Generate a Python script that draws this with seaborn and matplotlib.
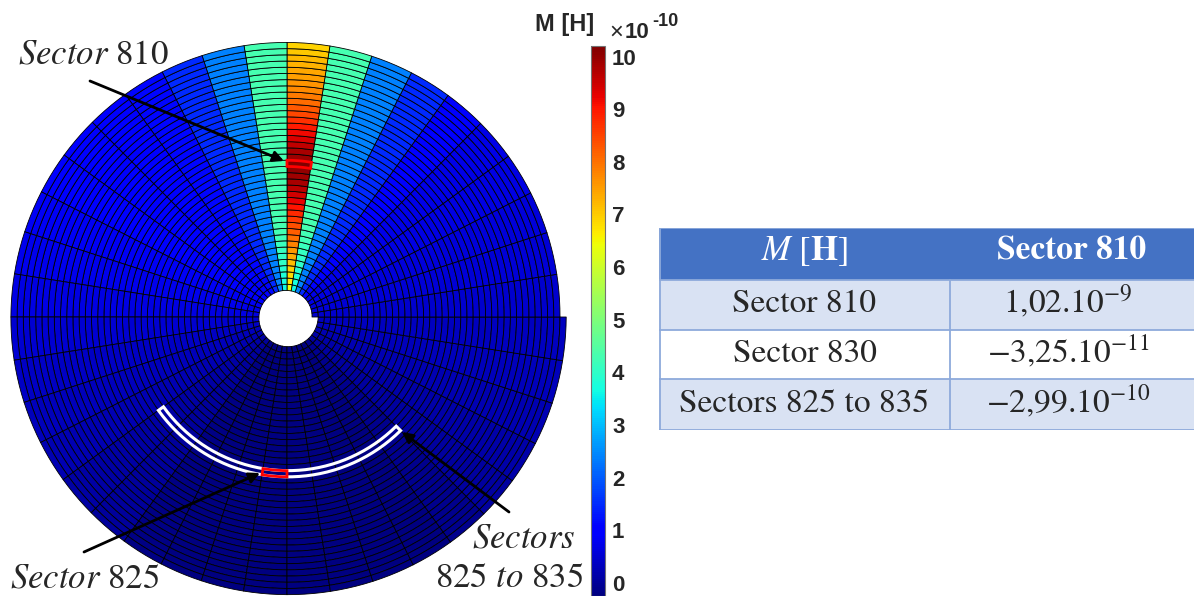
import numpy as np
import matplotlib
matplotlib.use("Agg")
import matplotlib.pyplot as plt
import seaborn as sns
from matplotlib.collections import PolyCollection
from matplotlib.patches import Polygon, Rectangle
from matplotlib.colors import Normalize

sns.set_style("white")
plt.rcParams["mathtext.fontset"] = "stix"

# ==========================================
# Data: mutual inductance M to sector 810 (x1e-10 H)
# spiral mesh: 40 turns x 40 sectors per turn (9 deg each)
# ==========================================
N_TURNS = 40
N_SECTORS = 40

# value per angular sector (same on every turn), sector 0 starts at 0 deg, counter clockwise
angular_M = [0.45, 0.55, 0.6, 0.65, 0.72, 0.9, 1.5, 2.4, 4.3, 9.0,
             4.3, 2.4, 1.5, 1.1, 1.0, 0.95, 0.9, 0.85, 0.75, 0.65,
             0.5, 0.4, 0.3, 0.2, 0.1, 0.0, -0.2, -0.3, -0.32, -0.33,
             -0.33, -0.32, -0.3, -0.25, -0.1, 0.05, 0.15, 0.2, 0.3, 0.35]

# radial profile (turn 0 = inner) of the two sectors next to sector 810
side_M = [3.6, 3.7, 3.8, 3.9, 4.0, 4.05, 4.1, 4.15, 4.2, 4.25,
          4.3, 4.3, 4.3, 4.3, 4.3, 4.3, 4.3, 4.3, 4.3, 4.3,
          4.3, 4.3, 4.3, 4.3, 4.3, 4.3, 4.3, 4.3, 4.3, 4.3,
          4.3, 4.3, 4.3, 4.3, 4.3, 4.3, 4.3, 4.3, 4.3, 4.3]

# radial profile of the sector column holding sector 810
center_M = [6.45, 6.7, 6.85, 6.95, 7.15, 7.35, 7.55, 7.8, 8.0, 8.2,
            8.4, 8.6, 8.8, 9.05, 9.25, 9.45, 9.65, 9.8, 9.9, 10.0,
            10.2, 9.95, 9.8, 9.6, 9.35, 9.15, 8.95, 8.7, 8.45, 8.25,
            8.05, 7.9, 7.75, 7.6, 7.5, 7.4, 7.3, 7.2, 7.05, 6.9]

marked_sector = 810
boxed_sector = 830
arc_sectors = (825, 835)

cbar_ticks = list(range(0, 11))

table_header = [r"$M\ [\mathbf{H}]$", "Sector 810"]
table_rows = ["Sector 810", "Sector 830", "Sectors 825 to 835"]
table_mantissa = [1.02, -3.25, -2.99]
table_exponent = [-9, -11, -10]

# ==========================================
# Geometry helpers
# ==========================================
R0, PITCH = 25.0, 6.2


def spiral_patch(t, j0, j1, n=6):
    th = np.linspace(j0, j1, n) * 2 * np.pi / N_SECTORS
    r_in = R0 + PITCH * (t + th / (2 * np.pi))
    r_out = r_in + PITCH
    x = np.r_[r_in * np.cos(th), (r_out * np.cos(th))[::-1]]
    y = np.r_[r_in * np.sin(th), (r_out * np.sin(th))[::-1]]
    return np.column_stack([x, y])


def sector_pos(k):
    return divmod(k - 1, N_SECTORS)


field = np.tile(np.array(angular_M, dtype=float), (N_TURNS, 1))
field[:, 8] = side_M
field[:, 10] = side_M
field[:, 9] = center_M

verts, vals = [], []
for t in range(N_TURNS):
    for j in range(N_SECTORS):
        verts.append(spiral_patch(t, j, j + 1))
        vals.append(field[t, j])

# ==========================================
# Figure
# ==========================================
W, H = 1194, 596
fig = plt.figure(figsize=(W / 100, H / 100), dpi=100)
fig.patch.set_facecolor("white")

ax = fig.add_axes([0, 0, 600 / W, 1])
ax.set_xlim(-287, 313)
ax.set_ylim(-279, 317)
ax.axis("off")

cmap = matplotlib.colormaps["jet"]
norm = Normalize(vmin=-0.25, vmax=10.2)
pc = PolyCollection(verts, array=np.array(vals), cmap=cmap, norm=norm,
                    edgecolors="black", linewidths=0.6)
ax.add_collection(pc)

# highlighted sectors
t_a, j_a = sector_pos(arc_sectors[0])
t_b, j_b = sector_pos(arc_sectors[1])
ax.add_patch(Polygon(spiral_patch(t_a, j_a, j_b + 1, n=40), closed=True,
                     fill=False, ec="white", lw=2.2, zorder=3))
for k in (marked_sector, boxed_sector):
    t, j = sector_pos(k)
    ax.add_patch(Polygon(spiral_patch(t, j, j + 1), closed=True,
                         fill=False, ec="red", lw=2, zorder=4))

serif = "STIXGeneral"
arrow = dict(arrowstyle="-|>", color="black", lw=2, mutation_scale=16,
             shrinkA=0, shrinkB=0)
ax.annotate("", xy=(-3, 156), xytext=(-197, 236), arrowprops=arrow)
ax.annotate("", xy=(-27, -156), xytext=(-203, -235), arrowprops=arrow)
ax.annotate("", xy=(115, -115), xytext=(222, -195), arrowprops=arrow)

ax.text(-269, 254, r"$\mathit{Sector}$ 810", family=serif, fontsize=25,
        ha="left", va="baseline")
ax.text(-277, -270, r"$\mathit{Sector}$ 825", family=serif, fontsize=25,
        ha="left", va="baseline")
ax.text(289, -231, r"$\mathit{Sectors}$", family=serif, fontsize=25,
        ha="right", va="baseline")
ax.text(296, -270, r"825 $\mathit{to}$ 835", family=serif, fontsize=25,
        ha="right", va="baseline")

# colorbar
cax = fig.add_axes([591 / W, 0, 14 / W, 550 / H])
cb = fig.colorbar(pc, cax=cax, ticks=cbar_ticks)
cb.outline.set_edgecolor("0.45")
cb.outline.set_linewidth(0.8)
cb.ax.tick_params(labelsize=16, direction="in", length=4, width=0.8,
                  color="0.25", pad=5)
for lab in cb.ax.get_yticklabels():
    lab.set_fontweight("bold")
    lab.set_family("Liberation Sans")
fig.text(565 / W, 1 - 25 / H, "M [H]", ha="center", va="center",
         fontsize=17, weight="bold", family="Liberation Sans")
fig.text(609 / W, 1 - 33 / H, "\u00d7", ha="left", va="center",
         fontsize=17, family="Liberation Sans")
fig.text(625 / W, 1 - 32 / H, "10", ha="left", va="center",
         fontsize=16, weight="bold", family="Liberation Sans")
fig.text(652 / W, 1 - 21 / H, "-10", ha="left", va="center",
         fontsize=13, weight="bold", family="Liberation Sans")

# ==========================================
# Table
# ==========================================
tax = fig.add_axes([659 / W, 1 - 430 / H, 535 / W, 202 / H])
tax.set_xlim(0, 535)
tax.set_ylim(202, 0)
tax.axis("off")

row_y = [0, 52, 102, 151, 202]
col_x = [0, 291, 535]
fills = ["#D9E2F3", "white", "#D9E2F3"]
line_c = "#8EAADB"

tax.add_patch(Rectangle((0, 0), 535, 52, fc="#4472C4", ec="none"))
for i, fc in enumerate(fills):
    tax.add_patch(Rectangle((0, row_y[i + 1]), 535, row_y[i + 2] - row_y[i + 1],
                            fc=fc, ec="none"))
for y in row_y:
    tax.plot([0, 535], [y, y], color=line_c, lw=1.3, solid_capstyle="butt")
tax.plot([0.7, 0.7], [0, 202], color=line_c, lw=1.3)
tax.plot([col_x[1], col_x[1]], [52, 202], color=line_c, lw=1.3)

cx0 = (col_x[0] + col_x[1]) / 2
cx1 = (col_x[1] + col_x[2]) / 2 - 4
tax.text(cx0, 32, table_header[0], family=serif, fontsize=25, color="white",
         ha="center", va="baseline")
tax.text(cx1 + 4, 32, table_header[1], family=serif, fontsize=24, color="white",
         weight="bold", ha="center", va="baseline")
base = [84, 134, 184]
for i, name in enumerate(table_rows):
    mant = f"{table_mantissa[i]:.2f}".replace(".", ",").replace("-", "\u2212")
    tax.text(cx0, base[i], name, family=serif, fontsize=24,
             ha="center", va="baseline")
    tax.text(cx1, base[i], mant + ".10$^{" + str(table_exponent[i]) + "}$",
             family=serif, fontsize=24, ha="center", va="baseline")

fig.savefig("out.png", dpi=100, facecolor="white")
